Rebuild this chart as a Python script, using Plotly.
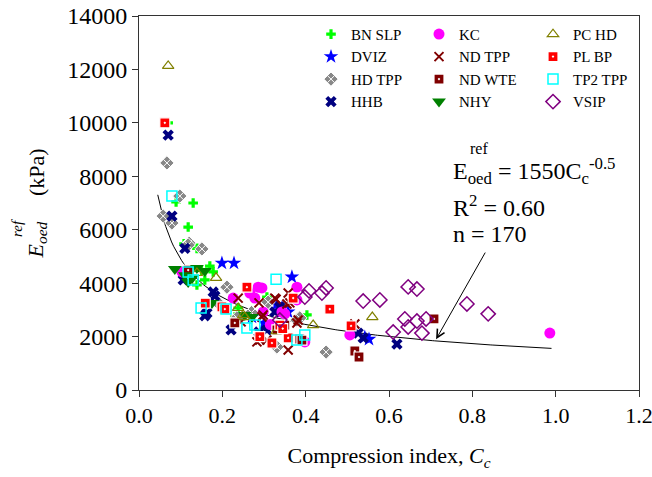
import numpy as np
import plotly.graph_objects as go

# ---------------- data ----------------
bn_slp_cc = [0.070, 0.089, 0.130, 0.118, 0.108, 0.139, 0.170, 0.178, 0.158, 0.139, 0.238, 0.230, 0.307, 0.403, 0.230, 0.150]
bn_slp_e = [10000, 7040, 7000, 6100, 5470, 5300, 4640, 4420, 4120, 3930, 3070, 2730, 3480, 2810, 2620, 4480]

dviz_cc = [0.199, 0.228, 0.367, 0.271, 0.343, 0.358, 0.542, 0.552, 0.330, 0.300]
dviz_e = [4750, 4750, 4230, 2730, 3070, 2920, 1980, 1900, 3200, 2500]

hd_tpp_cc = [0.067, 0.098, 0.058, 0.079, 0.120, 0.151, 0.118, 0.211, 0.310, 0.379, 0.386, 0.331, 0.449, 0.270, 0.235, 0.187]
hd_tpp_e = [8500, 7260, 6510, 6250, 5500, 5280, 5430, 3850, 3290, 2620, 2700, 1610, 1420, 2900, 2700, 3300]

hhb_cc = [0.070, 0.079, 0.110, 0.106, 0.178, 0.182, 0.163, 0.158, 0.221, 0.288, 0.307, 0.338, 0.326, 0.526, 0.538, 0.619]
hhb_e = [9540, 6510, 5300, 4120, 3670, 3520, 2880, 2780, 2250, 2170, 2250, 3110, 2920, 2130, 1950, 1720]

kc_cc = [0.103, 0.226, 0.266, 0.278, 0.286, 0.295, 0.298, 0.343, 0.350, 0.379, 0.379, 0.398, 0.506, 0.986, 0.315]
kc_e = [4420, 3440, 3630, 3440, 3850, 3820, 2920, 2920, 2850, 3850, 3370, 1800, 2060, 2130, 2450]

nd_tpp_cc = [0.238, 0.288, 0.298, 0.329, 0.358, 0.362, 0.290, 0.307, 0.358, 0.326, 0.382, 0.295, 0.283, 0.355, 0.379, 0.518, 0.245]
nd_tpp_e = [3440, 3260, 2810, 3400, 3630, 3260, 1870, 1870, 1500, 3440, 2620, 2730, 1800, 3220, 2510, 2470, 2550]

nd_wte_cc = [0.118, 0.230, 0.331, 0.350, 0.386, 0.391, 0.518, 0.528, 0.708]
nd_wte_e = [4490, 2510, 2250, 2430, 1910, 1870, 1460, 1235, 2660]

nhy_cc = [0.086, 0.110, 0.118, 0.139, 0.158, 0.175, 0.254, 0.271, 0.128]
nhy_e = [4530, 4300, 4040, 4570, 4450, 3260, 2810, 2730, 4200]

pc_hd_cc = [0.070, 0.139, 0.250, 0.238, 0.254, 0.418, 0.560, 0.185, 0.330]
pc_hd_e = [12130, 4380, 2800, 3070, 2730, 2430, 2730, 4200, 2200]

pl_bp_cc = [0.062, 0.159, 0.199, 0.206, 0.259, 0.338, 0.319, 0.358, 0.370, 0.458, 0.509, 0.290, 0.345]
pl_bp_e = [10000, 3250, 3110, 3030, 3850, 2430, 1760, 1950, 3440, 3030, 2400, 2000, 2300]

tp2_tpp_cc = [0.079, 0.118, 0.130, 0.149, 0.209, 0.259, 0.278, 0.329, 0.398, 0.379]
tp2_tpp_e = [7260, 4420, 4120, 3070, 3030, 2320, 2430, 4150, 2060, 1870]

vsip_cc = [0.398, 0.408, 0.439, 0.449, 0.538, 0.578, 0.646, 0.667, 0.638, 0.646, 0.667, 0.689, 0.610, 0.679, 0.787, 0.838, 0.338]
vsip_e = [3480, 3710, 3630, 3820, 3330, 3370, 3860, 3780, 2660, 2360, 2580, 2660, 2170, 2130, 3220, 2850, 2620]

# fitted relation E = 1550 * Cc^-0.5
fit_a = 1550
fit_b = -0.5
fit_cc = np.linspace(0.045, 0.99, 200)
fit_e = fit_a * fit_cc ** fit_b

x_ticks = [0.0, 0.2, 0.4, 0.6, 0.8, 1.0, 1.2]
y_ticks = [0, 2000, 4000, 6000, 8000, 10000, 12000, 14000]

FONT = "'Liberation Serif', 'Times New Roman', Times, serif"

series = [
    # name, x, y, symbol, color, size, line color, line width, legend
    ("BN SLP", bn_slp_cc, bn_slp_e, "cross", "#00ff00", 8, "#00ff00", 0, "legend"),
    ("DVIZ", dviz_cc, dviz_e, "star", "#0000ff", 11, "#0000ff", 0, "legend"),
    ("HD TPP", hd_tpp_cc, hd_tpp_e, "diamond-x", "#888888", 11, "#ffffff", 1, "legend"),
    ("HHB", hhb_cc, hhb_e, "x", "#000080", 10, "#000080", 0, "legend"),
    ("KC", kc_cc, kc_e, "circle", "#ff00ff", 11, "#ff00ff", 0, "legend2"),
    ("ND TPP", nd_tpp_cc, nd_tpp_e, "x-thin", "#800000", 9, "#800000", 2, "legend2"),
    ("ND WTE", nd_wte_cc, nd_wte_e, "square-dot", "#800000", 10, "#ffffff", 1.2, "legend2"),
    ("NHY", nhy_cc, nhy_e, "triangle-down", "#008000", 12, "#008000", 0, "legend2"),
    ("PC HD", pc_hd_cc, pc_hd_e, "triangle-up-open", "#808000", 10, "#808000", 1.2, "legend3"),
    ("PL BP", pl_bp_cc, pl_bp_e, "square-dot", "#ff0000", 10, "#ffffff", 1.2, "legend3"),
    ("TP2 TPP", tp2_tpp_cc, tp2_tpp_e, "square-open", "#00ffff", 10, "#00ffff", 1.5, "legend3"),
    ("VSIP", vsip_cc, vsip_e, "diamond-open", "#800080", 11, "#800080", 1.5, "legend3"),
]

fig = go.Figure()
fig.add_trace(go.Scatter(x=fit_cc, y=fit_e, mode="lines",
                         line=dict(color="black", width=1), showlegend=False,
                         hoverinfo="skip"))

for name, xs, ys, sym, col, size, lcol, lw, leg in series:
    fig.add_trace(go.Scatter(
        x=xs, y=ys, mode="markers", name=name, legend=leg,
        marker=dict(symbol=sym, color=col, size=size,
                    line=dict(color=lcol, width=lw))))

legend_common = dict(font=dict(family=FONT, size=15, color="black"),
                     bgcolor="rgba(0,0,0,0)", borderwidth=0,
                     xanchor="left", yanchor="top", orientation="v")
fig.update_layout(
    legend=dict(x=0.344, y=0.995, **legend_common),
    legend2=dict(x=0.560, y=0.995, **legend_common),
    legend3=dict(x=0.788, y=0.995, **legend_common),
)

axis_common = dict(showgrid=False, zeroline=False, showline=True,
                   linecolor="#333333", linewidth=1, mirror=True,
                   ticks="outside", ticklen=6, tickcolor="#333333",
                   ticklabeloverflow="allow", automargin=False)

fig.update_xaxes(range=[0, 1.2], tickvals=x_ticks,
                 ticktext=[f"{v:.1f}" for v in x_ticks],
                 tickfont=dict(family=FONT, size=22, color="black"),
                 title=dict(text="Compression index, <i>C<sub>c</sub></i>",
                            font=dict(family=FONT, size=22, color="black"),
                            standoff=20),
                 **axis_common)
fig.update_yaxes(range=[0, 14000], tickvals=y_ticks,
                 ticktext=[str(v) for v in y_ticks],
                 tickfont=dict(family=FONT, size=24, color="black"),
                 **axis_common)

ann_font = dict(family=FONT, size=24, color="black")
annotations = [
    # y-axis title pieces
    dict(text="<i>E<sub>oed</sub></i>", xref="paper", yref="paper",
         x=-0.204, y=0.40, xanchor="center", yanchor="middle", textangle=-90,
         showarrow=False, font=dict(family=FONT, size=22, color="black")),
    dict(text="(kPa)", xref="paper", yref="paper",
         x=-0.204, y=0.583, xanchor="center", yanchor="middle", textangle=-90,
         showarrow=False, font=dict(family=FONT, size=22, color="black")),
    dict(text="<i>ref</i>", xref="paper", yref="paper",
         x=-0.244, y=0.433, xanchor="center", yanchor="middle", textangle=-90,
         showarrow=False, font=dict(family=FONT, size=15, color="black")),
    # equation
    dict(text="E<sub>oed</sub> = 1550C<sub>c</sub><sup>-0.5</sup>", xref="x", yref="y",
         x=0.748, y=8200, xanchor="left", yanchor="middle", showarrow=False, font=ann_font),
    dict(text="ref", xref="x", yref="y",
         x=0.790, y=9050, xanchor="left", yanchor="middle", showarrow=False,
         font=dict(family=FONT, size=16, color="black")),
    dict(text="R<sup>2</sup> = 0.60", xref="x", yref="y",
         x=0.748, y=6900, xanchor="left", yanchor="middle", showarrow=False, font=ann_font),
    dict(text="n = 170", xref="x", yref="y",
         x=0.748, y=5850, xanchor="left", yanchor="middle", showarrow=False, font=ann_font),
    # arrow
    dict(text="", xref="x", yref="y", axref="x", ayref="y",
         x=0.713, y=1900, ax=0.833, ay=5200, showarrow=True,
         arrowhead=5, arrowsize=1.6, arrowwidth=1, arrowcolor="black"),
]
fig.update_layout(annotations=annotations)

fig.update_layout(
    width=652, height=477,
    margin=dict(l=139, r=13, t=16, b=87),
    paper_bgcolor="white", plot_bgcolor="white",
    font=dict(family=FONT, color="black"),
)

# remove the browser's default 8px body margin so the figure fills the window exactly
fig.write_html("out.html",
               config={"displayModeBar": False},
               post_script="document.body.style.margin='0';"
                           "document.body.style.padding='0';"
                           "document.body.style.overflow='hidden';")
